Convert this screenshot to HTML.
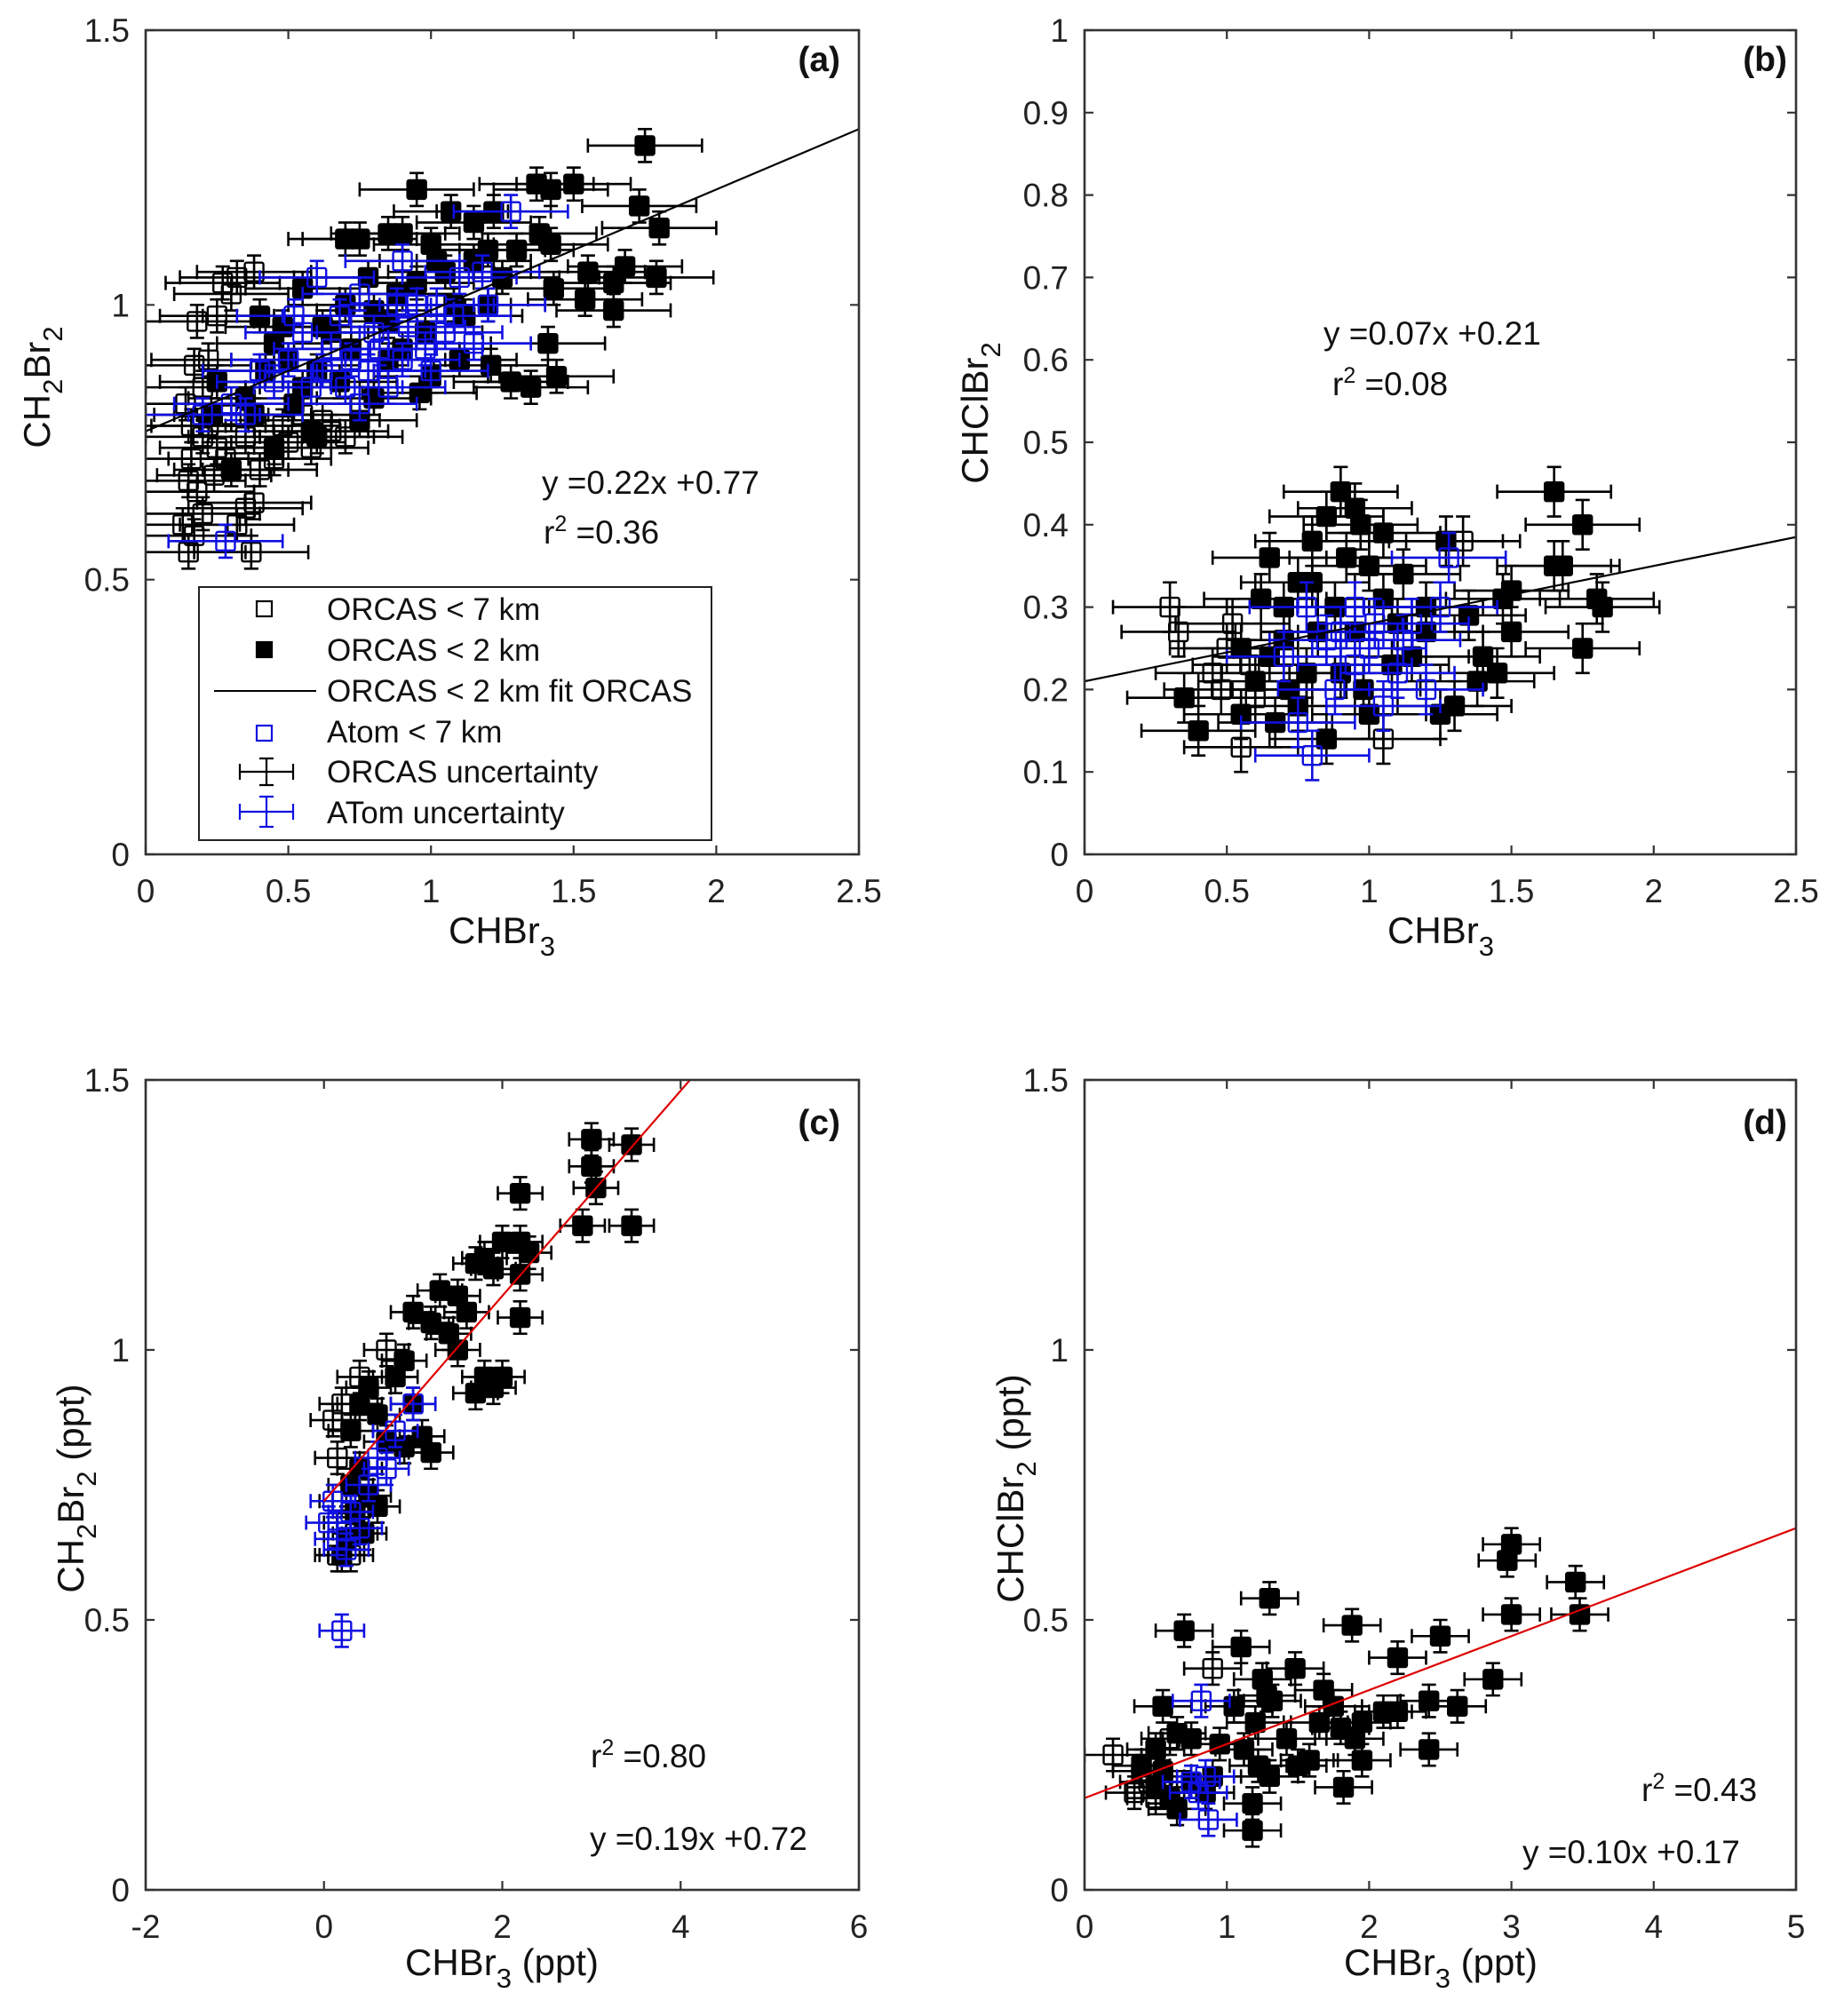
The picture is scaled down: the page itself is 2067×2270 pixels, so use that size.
<!DOCTYPE html>
<html><head><meta charset="utf-8"><style>
html,body{margin:0;padding:0;background:#fff;}
svg{display:block;font-family:"Liberation Sans",Arial,sans-serif;}
</style></head><body>
<svg id="fig" width="2067" height="2270" viewBox="0 0 2067 2270" xmlns="http://www.w3.org/2000/svg"></svg>
<script>
// ---------- Panel (a) data: CH2Br2 vs CHBr3 ----------
const aOpen = [[0.15,0.55],[0.17,0.58],[0.2,0.62],[0.18,0.66],[0.15,0.68],[0.16,0.72],[0.2,0.76],[0.22,0.78],[0.25,0.74],[0.35,0.63],[0.37,0.55],[0.38,0.64],[0.32,0.6],[0.17,0.89],[0.22,0.9],[0.18,0.97],[0.27,1.04],[0.32,1.05],[0.38,1.06],[0.3,1.02],[0.16,0.78],[0.14,0.82],[0.24,0.69],[0.28,0.72],[0.4,0.7],[0.45,0.72],[0.5,0.75],[0.55,0.8],[0.65,0.77],[0.2,0.85],[0.13,0.6],[0.25,0.98],[0.48,0.78],[0.58,0.74],[0.62,0.79],[0.7,0.76],[0.3,0.8],[0.35,0.76]];
const aFilled = [[1.75,1.29],[0.95,1.21],[1.37,1.22],[1.42,1.21],[1.5,1.22],[1.73,1.18],[1.8,1.14],[1.07,1.17],[1.15,1.15],[1.22,1.17],[1.38,1.13],[1.42,1.11],[1.55,1.06],[1.54,1.01],[1.64,1.04],[1.68,1.07],[1.79,1.05],[1.64,0.99],[1.43,1.03],[1.41,0.93],[1.44,0.87],[1.35,0.85],[1.28,0.86],[1.21,0.89],[0.4,0.98],[0.55,1.03],[1.0,1.11],[0.85,1.13],[0.75,1.12],[0.7,1.12],[0.9,1.13],[1.02,1.08],[1.2,1.1],[0.6,0.76],[0.58,0.77],[0.45,0.74],[0.3,0.7],[0.25,0.86],[0.23,0.8],[0.75,0.79],[0.96,0.84],[1.0,0.87],[0.8,0.83],[0.65,0.95],[0.7,1.0],[0.5,0.9],[0.45,0.93],[0.35,0.83],[0.85,0.97],[0.95,1.04],[1.1,0.9],[1.2,1.0],[1.05,1.06],[0.6,0.88],[0.9,0.92],[0.8,0.99],[0.52,0.82],[0.42,0.88],[0.62,0.96],[0.72,0.92],[0.78,1.05],[0.88,1.02],[1.12,0.98],[1.25,1.05],[1.3,1.1],[0.55,0.85],[0.68,0.86],[0.98,0.95],[1.08,1.0],[0.48,0.96],[0.38,0.8],[0.85,0.9],[1.15,1.08]];
const aAtom = [[0.28,0.57],[1.28,1.17],[0.6,1.05],[0.8,0.95],[0.9,0.9],[1.0,0.88],[1.2,1.0],[0.7,0.85],[0.5,0.9],[0.35,0.8],[0.95,1.0],[1.1,1.05],[0.65,0.92],[0.85,0.85],[1.05,0.95],[0.75,1.02],[0.55,0.95],[0.4,0.88],[1.15,0.93],[0.9,1.08],[0.3,0.82],[0.2,0.8],[0.62,0.88],[0.72,0.9],[0.82,0.92],[0.92,0.96],[1.02,1.0],[0.58,0.85],[0.68,0.98],[0.78,0.88],[0.88,1.0],[0.98,0.92],[1.08,0.98],[0.45,0.86],[0.52,0.98],[1.18,1.06],[0.75,0.82]];
const aFit = [0.22, 0.77];
const aErr = [0.2, 0.03];
const aXTicks = [0,0.5,1,1.5,2,2.5];
const aYTicks = [0,0.5,1,1.5];

// ---------- Panel (b) data: CHClBr2 vs CHBr3 ----------
const bOpen = [[0.3,0.3],[0.33,0.27],[0.5,0.25],[0.52,0.28],[0.55,0.13],[0.6,0.19],[1.05,0.14],[0.48,0.2],[0.45,0.22],[1.33,0.38],[0.58,0.23]];
const bFilled = [[0.9,0.44],[1.65,0.44],[1.75,0.40],[0.95,0.42],[0.97,0.40],[0.85,0.41],[1.05,0.39],[1.27,0.38],[0.65,0.36],[0.75,0.33],[0.8,0.33],[1.0,0.35],[1.2,0.3],[1.65,0.35],[1.68,0.35],[1.8,0.31],[1.82,0.3],[1.5,0.32],[1.47,0.31],[1.5,0.27],[1.35,0.29],[1.4,0.24],[1.45,0.22],[1.38,0.21],[1.75,0.25],[1.3,0.18],[1.25,0.17],[1.0,0.17],[0.85,0.14],[0.4,0.15],[0.35,0.19],[0.55,0.17],[0.6,0.21],[0.65,0.24],[0.7,0.26],[0.72,0.2],[0.67,0.16],[0.9,0.22],[0.95,0.27],[1.1,0.28],[1.15,0.24],[1.05,0.31],[0.88,0.3],[0.78,0.22],[0.62,0.31],[0.55,0.25],[1.2,0.27],[0.98,0.2],[0.82,0.27],[1.12,0.34],[0.8,0.38],[0.92,0.36],[0.7,0.3],[1.08,0.23],[0.75,0.18]];
const bAtom = [[0.8,0.12],[1.28,0.36],[0.9,0.27],[1.0,0.25],[1.1,0.22],[1.2,0.2],[0.85,0.26],[0.95,0.3],[1.15,0.28],[1.05,0.18],[0.7,0.24],[1.25,0.3],[0.75,0.16],[0.95,0.23],[0.88,0.2],[1.02,0.28],[0.78,0.3],[1.12,0.26]];
const bFit = [0.07, 0.21];
const bErr = [0.2, 0.03];
const bXTicks = [0,0.5,1,1.5,2,2.5];
const bYTicks = [0,0.1,0.2,0.3,0.4,0.5,0.6,0.7,0.8,0.9,1];

// ---------- Panel (c) data ----------
const cOpen = [[0.1,0.87],[0.15,0.8],[0.2,0.72],[0.25,0.68],[0.15,0.62],[0.3,0.62],[0.7,1.0],[0.4,0.95],[0.2,0.9],[0.35,0.66]];
const cFilled = [[3.0,1.39],[3.45,1.38],[3.0,1.34],[3.05,1.3],[2.9,1.23],[3.45,1.23],[2.2,1.29],[2.0,1.2],[2.2,1.2],[2.3,1.18],[1.7,1.16],[1.8,1.17],[1.9,1.15],[2.2,1.14],[1.3,1.11],[1.5,1.1],[1.6,1.07],[1.0,1.07],[1.2,1.05],[1.4,1.03],[2.2,1.06],[1.8,0.95],[2.0,0.95],[1.7,0.92],[1.9,0.93],[1.2,0.81],[1.1,0.84],[0.9,0.82],[0.6,0.71],[0.5,0.73],[0.4,0.78],[0.3,0.75],[0.3,0.85],[0.4,0.9],[0.5,0.93],[0.8,0.95],[0.6,0.88],[0.7,0.83],[1.0,0.9],[0.25,0.65],[0.2,0.62],[0.45,0.66],[0.35,0.7],[0.9,0.98],[1.5,1.0]];
const cAtom = [[0.2,0.48],[0.05,0.68],[0.15,0.65],[0.3,0.7],[0.5,0.75],[0.6,0.8],[0.8,0.85],[1.0,0.9],[0.25,0.63],[0.4,0.67],[0.7,0.78],[0.1,0.72]];
const cFit = [0.19, 0.72];
const cErr = [0.25, 0.03];
const cXTicks = [-2,0,2,4,6];
const cYTicks = [0,0.5,1,1.5];

// ---------- Panel (d) data ----------
const dOpen = [[0.2,0.25],[0.9,0.41],[0.45,0.2],[0.5,0.17],[0.35,0.18],[0.55,0.21],[0.4,0.22],[0.6,0.28]];
const dFilled = [[3.0,0.64],[2.97,0.61],[3.45,0.57],[3.0,0.51],[3.48,0.51],[1.3,0.54],[0.7,0.48],[1.88,0.49],[2.5,0.47],[1.1,0.45],[2.2,0.43],[1.48,0.41],[1.25,0.39],[2.87,0.39],[1.68,0.37],[1.28,0.36],[1.32,0.35],[0.55,0.34],[1.05,0.34],[2.42,0.35],[2.62,0.34],[1.75,0.34],[2.1,0.33],[2.2,0.33],[1.95,0.31],[1.2,0.31],[1.65,0.31],[1.8,0.3],[0.65,0.29],[0.75,0.28],[0.95,0.27],[1.42,0.28],[1.9,0.28],[0.5,0.26],[1.12,0.26],[2.42,0.26],[1.95,0.24],[0.4,0.23],[1.22,0.23],[1.5,0.23],[1.58,0.24],[0.55,0.22],[1.3,0.21],[0.75,0.2],[0.9,0.21],[1.82,0.19],[0.6,0.17],[0.65,0.15],[1.18,0.16],[1.18,0.11],[0.5,0.19],[0.85,0.18]];
const dAtom = [[0.82,0.35],[0.85,0.21],[0.8,0.18],[0.87,0.13],[0.75,0.2]];
const dFit = [0.10, 0.17];
const dErr = [0.2, 0.03];
const dXTicks = [0,1,2,3,4,5];
const dYTicks = [0,0.5,1,1.5];

const NS = "http://www.w3.org/2000/svg";
const svg = document.getElementById('fig');
function mk(tag, attrs, parent){
  const e = document.createElementNS(NS, tag);
  for (const k in attrs) e.setAttribute(k, attrs[k]);
  (parent||svg).appendChild(e);
  return e;
}
function panel(cfg){
  const g = mk('g', {});
  
  
  const L=cfg.L,R=cfg.R,T=cfg.T,B=cfg.B;
  const sx = v => L + (v-cfg.xmin)/(cfg.xmax-cfg.xmin)*(R-L);
  const sy = v => B - (v-cfg.ymin)/(cfg.ymax-cfg.ymin)*(B-T);
  const cid = 'clip'+cfg.id;
  const defs = mk('defs', {}, g);
  const cp = mk('clipPath', {id:cid}, defs);
  mk('rect', {x:L,y:T,width:R-L,height:B-T}, cp);
  const plot = mk('g', {'clip-path':'url(#'+cid+')'}, g);
  
  
  function pts(list, color, fill, name){
    const sg = mk('g', {}, plot);
    
    
    list.forEach(p => {
      const x=sx(p[0]), y=sy(p[1]);
      const x1=sx(p[0]-cfg.err[0]), x2=sx(p[0]+cfg.err[0]);
      const y1=sy(p[1]-cfg.err[1]), y2=sy(p[1]+cfg.err[1]);
      const c=8;
      const d = `M${x1},${y}H${x2}M${x1},${y-c}V${y+c}M${x2},${y-c}V${y+c}M${x},${y1}V${y2}M${x-c},${y1}H${x+c}M${x-c},${y2}H${x+c}`;
      const eb = mk('path', {d:d, stroke:color, 'stroke-width':2.6, fill:'none'}, sg);
      
      
      const m = mk('rect', {x:x-10.5,y:y-10.5,width:21,height:21,rx:2, fill:fill?'#000':'#fff', 'fill-opacity':fill?1:0, stroke:color, 'stroke-width':2.4}, sg);
      
      
    });
  }
  pts(cfg.open, '#000', false, 'series-orcas-7km');
  pts(cfg.filled, '#000', true, 'series-orcas-2km');
  pts(cfg.atom, '#1010e0', false, 'series-atom-7km');
  const fx0 = cfg.fitFrom, fx1 = cfg.xmax;
  const fl = mk('line', {x1:sx(fx0), y1:sy(cfg.fit[0]*fx0+cfg.fit[1]), x2:sx(fx1), y2:sy(cfg.fit[0]*fx1+cfg.fit[1]), stroke:cfg.fitColor, 'stroke-width':2.2}, plot);
  
  
  const box = mk('rect', {x:L,y:T,width:R-L,height:B-T,fill:'none',stroke:'#333','stroke-width':2.6}, g);
  
  
  const tl = 10;
  cfg.xt.forEach(v => {
    const x = sx(v);
    const t = mk('path', {d:`M${x},${B}V${B-tl}M${x},${T}V${T+tl}`, stroke:'#333','stroke-width':2.2}, g);
    
    
    const lab = mk('text', {x:x, y:B+54, 'font-size':37, 'text-anchor':'middle', fill:'#222'}, g);
    lab.textContent = String(v);
    
    
  });
  cfg.yt.forEach(v => {
    const y = sy(v);
    const t = mk('path', {d:`M${L},${y}H${L+tl}M${R},${y}H${R-tl}`, stroke:'#333','stroke-width':2.2}, g);
    
    
    const lab = mk('text', {x:L-18, y:y+13, 'font-size':37, 'text-anchor':'end', fill:'#222'}, g);
    lab.textContent = String(v);
    
    
  });
}
panel({id:'a',L:164,R:967,T:34,B:962,xmin:0,xmax:2.5,ymin:0,ymax:1.5,open:aOpen,filled:aFilled,atom:aAtom,fit:aFit,err:aErr,xt:aXTicks,yt:aYTicks,fitColor:'#000',fitFrom:0});
panel({id:'b',L:1221,R:2022,T:34,B:962,xmin:0,xmax:2.5,ymin:0,ymax:1,open:bOpen,filled:bFilled,atom:bAtom,fit:bFit,err:bErr,xt:bXTicks,yt:bYTicks,fitColor:'#000',fitFrom:0});
panel({id:'c',L:164,R:967,T:1216,B:2128,xmin:-2,xmax:6,ymin:0,ymax:1.5,open:cOpen,filled:cFilled,atom:cAtom,fit:cFit,err:cErr,xt:cXTicks,yt:cYTicks,fitColor:'#dd0000',fitFrom:0});
panel({id:'d',L:1221,R:2022,T:1216,B:2128,xmin:0,xmax:5,ymin:0,ymax:1.5,open:dOpen,filled:dFilled,atom:dAtom,fit:dFit,err:dErr,xt:dXTicks,yt:dYTicks,fitColor:'#dd0000',fitFrom:0});
</script>
<script>
(function(){
const s=document.getElementById('fig');
const html = `
<g font-family="Liberation Sans, Arial, sans-serif" fill="#111">
<text x="946" y="80" font-size="39" font-weight="bold" text-anchor="end">(a)</text>
<text x="2012" y="80" font-size="39" font-weight="bold" text-anchor="end">(b)</text>
<text x="946" y="1277" font-size="39" font-weight="bold" text-anchor="end">(c)</text>
<text x="2012" y="1277" font-size="39" font-weight="bold" text-anchor="end">(d)</text>
<text x="610" y="556" font-size="37">y =0.22x +0.77</text>
<text x="612" y="612" font-size="37">r<tspan dy="-14" font-size="25">2</tspan><tspan dy="14"> =0.36</tspan></text>
<text x="1490" y="388" font-size="37">y =0.07x +0.21</text>
<text x="1500" y="445" font-size="37">r<tspan dy="-14" font-size="25">2</tspan><tspan dy="14"> =0.08</tspan></text>
<text x="665" y="1990" font-size="37">r<tspan dy="-14" font-size="25">2</tspan><tspan dy="14"> =0.80</tspan></text>
<text x="664" y="2083" font-size="37">y =0.19x +0.72</text>
<text x="1848" y="2028" font-size="37">r<tspan dy="-14" font-size="25">2</tspan><tspan dy="14"> =0.43</tspan></text>
<text x="1714" y="2098" font-size="37">y =0.10x +0.17</text>
<text x="565" y="1062" font-size="42" text-anchor="middle">CHBr<tspan dy="14" font-size="31">3</tspan></text>
<text x="1622" y="1062" font-size="42" text-anchor="middle">CHBr<tspan dy="14" font-size="31">3</tspan></text>
<text x="565" y="2224" font-size="42" text-anchor="middle">CHBr<tspan dy="14" font-size="31">3</tspan><tspan dy="-14"> (ppt)</tspan></text>
<text x="1622" y="2224" font-size="42" text-anchor="middle">CHBr<tspan dy="14" font-size="31">3</tspan><tspan dy="-14"> (ppt)</tspan></text>
<text transform="translate(56,436) rotate(-90)" font-size="42" text-anchor="middle">CH<tspan dy="14" font-size="31">2</tspan><tspan dy="-14">Br</tspan><tspan dy="14" font-size="31">2</tspan></text>
<text transform="translate(1112,465) rotate(-90)" font-size="42" text-anchor="middle">CHClBr<tspan dy="14" font-size="31">2</tspan></text>
<text transform="translate(94,1676) rotate(-90)" font-size="42" text-anchor="middle">CH<tspan dy="14" font-size="31">2</tspan><tspan dy="-14">Br</tspan><tspan dy="14" font-size="31">2</tspan><tspan dy="-14"> (ppt)</tspan></text>
<text transform="translate(1152,1676) rotate(-90)" font-size="42" text-anchor="middle">CHClBr<tspan dy="14" font-size="31">2</tspan><tspan dy="-14"> (ppt)</tspan></text>
</g>
<g font-family="Liberation Sans, Arial, sans-serif" font-size="35" fill="#111">
<rect x="224" y="661" width="577" height="285" fill="#fff" stroke="#222" stroke-width="2"/>
<rect x="289" y="677" width="17" height="17" fill="none" stroke="#000" stroke-width="2.2"/>
<text x="368" y="698">ORCAS &lt; 7 km</text>
<rect x="289" y="723" width="17" height="17" fill="#000" stroke="#000" stroke-width="2.2"/>
<text x="368" y="744">ORCAS &lt; 2 km</text>
<line x1="241" y1="778" x2="356" y2="778" stroke="#000" stroke-width="2"/>
<text x="368" y="790">ORCAS &lt; 2 km fit ORCAS</text>
<rect x="289" y="817" width="17" height="17" fill="none" stroke="#1010e0" stroke-width="2.2"/>
<text x="368" y="836">Atom &lt; 7 km</text>
<path d="M270,869H330M270,860V878M330,860V878M300,854V884M292,854H308M292,884H308" stroke="#000" stroke-width="2.2" fill="none"/>
<text x="368" y="881">ORCAS uncertainty</text>
<path d="M270,914H330M270,905V923M330,905V923M300,897V931M292,897H308M292,931H308" stroke="#1010e0" stroke-width="2.2" fill="none"/>
<text x="368" y="927">ATom uncertainty</text>
</g>`;
s.insertAdjacentHTML('beforeend', html);
})();
</script>
</body></html>
